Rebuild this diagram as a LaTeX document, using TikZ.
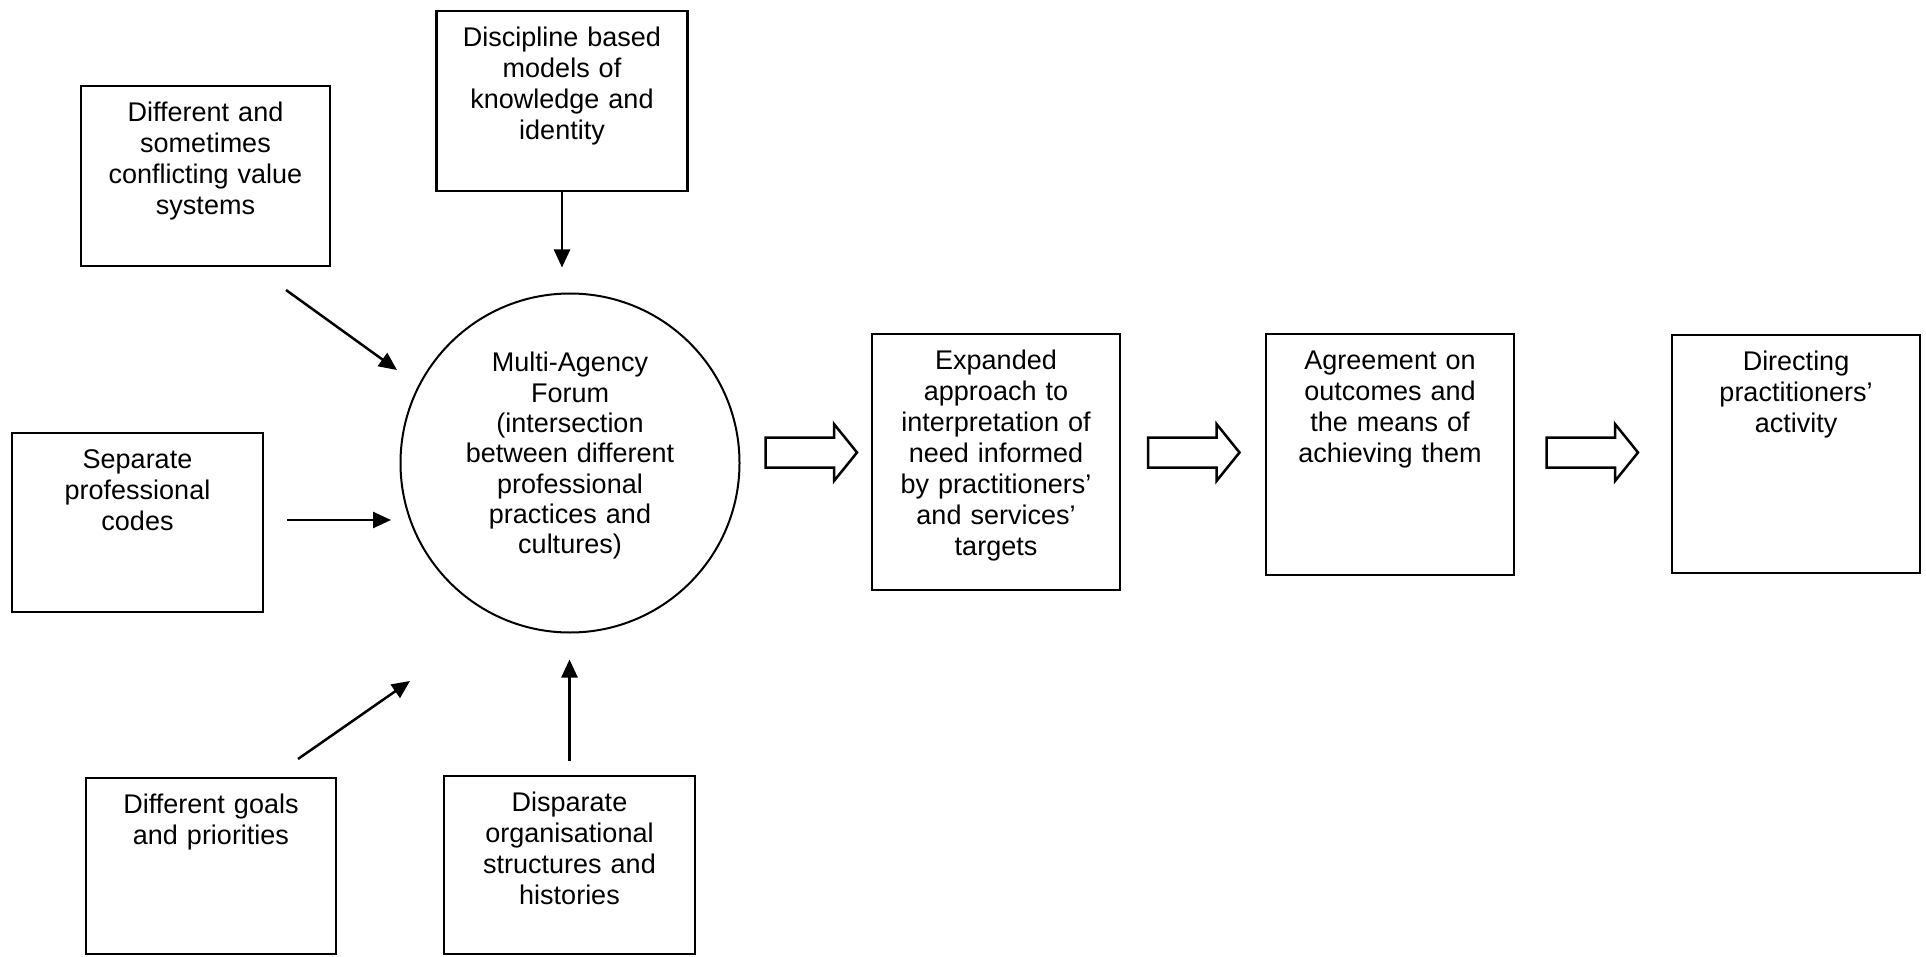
\documentclass[tikz,border=0pt]{standalone}
\usepackage{fontspec}
\setmainfont{Liberation Sans}
\usetikzlibrary{arrows.meta,calc}
\begin{document}
\begin{tikzpicture}[x=1pt,y=-1pt,
  box/.style={draw, line width=2.5pt, inner sep=0pt, outer sep=0pt},
  txt/.style={anchor=north, inner sep=0pt, text width=240pt, align=center,
    font=\fontsize{27}{31}\selectfont},
  conn/.style={line width=2.5pt, -{Triangle[length=18pt,width=16pt]}},
  blk/.style={draw, line width=2.5pt, fill=white, line join=miter},
  blockarrow/.pic={\draw[blk] (-45.5,-15) -- (23,-15) -- (23,-28.5) -- (46,0)
     -- (23,28.5) -- (23,15) -- (-45.5,15) -- cycle;}]
\useasboundingbox (0,0) rectangle (1926,957);

% boxes
\node[box, minimum width=249pt, minimum height=180pt] (b1) at (205.5,176) {};
\node[box, minimum width=251pt, minimum height=180pt] (b2) at (562,101) {};
\node[box, minimum width=251pt, minimum height=179pt] (b3) at (137.5,522.5) {};
\node[box, minimum width=250pt, minimum height=176pt] (b4) at (211,866) {};
\node[box, minimum width=251pt, minimum height=178pt] (b5) at (569.5,865) {};
\node[draw, circle, line width=2pt, minimum size=339pt, inner sep=0pt, outer sep=0pt] (circ) at (570,463) {};
\node[box, minimum width=248pt, minimum height=256pt] (e1) at (996,462) {};
\node[box, minimum width=248pt, minimum height=241pt] (e2) at (1390,454.5) {};
\node[box, minimum width=248pt, minimum height=238pt] (e3) at (1796,454) {};

% texts
\node[txt] (t1) at ([yshift=-14pt]b1.north) {\strut Different and\\sometimes\\conflicting value\\systems};
\node[txt] (t2) at ([yshift=-14pt]b2.north) {\strut Discipline based\\models of\\knowledge and\\identity};
\node[txt] (t3) at ([yshift=-14pt]b3.north) {\strut Separate\\professional\\codes};
\node[txt] (t4) at ([yshift=-14pt]b4.north) {\strut Different goals\\and priorities};
\node[txt] (t5) at ([yshift=-14pt]b5.north) {\strut Disparate\\organisational\\structures and\\histories};
\node[txt, font=\fontsize{27}{30.3}\selectfont] (tc) at ([yshift=-57pt]circ.north)
  {\strut Multi-Agency\\Forum\\(intersection\\between different\\professional\\practices and\\cultures)};
\node[txt] (te1) at ([yshift=-14pt]e1.north) {\strut Expanded\\approach to\\interpretation of\\need informed\\by practitioners’\\and services’\\targets};
\node[txt] (te2) at ([yshift=-14pt]e2.north) {\strut Agreement on\\outcomes and\\the means of\\achieving them};
\node[txt] (te3) at ([yshift=-14pt]e3.north) {\strut Directing\\practitioners’\\activity};

% thin arrows
\coordinate (d1s) at (286,290);
\coordinate (d1e) at (397,370);
\coordinate (s3s) at (287,520);
\coordinate (s3e) at (391,520);
\coordinate (d4s) at (298,759);
\coordinate (d4e) at (410,681);
\coordinate (c2) at (b2.south |- circ.north);
\coordinate (c5) at (b5.north |- circ.south);
\draw[conn] (d1s) -- (d1e);
\draw[conn, shorten >=26pt] (b2.south) -- (c2);
\draw[conn] (s3s) -- (s3e);
\draw[conn] (d4s) -- (d4e);
\draw[conn, shorten <=15pt, shorten >=27pt] (b5.north) -- (c5);

% block arrows
\pic at (811,452.5) {blockarrow};
\pic at (1193.5,452.5) {blockarrow};
\pic at (1592,452.5) {blockarrow};
\end{tikzpicture}
\end{document}
